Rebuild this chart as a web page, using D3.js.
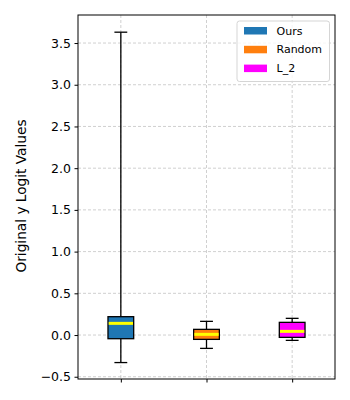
<!DOCTYPE html>
<html>
<head>
<meta charset="utf-8">
<script src="https://cdn.jsdelivr.net/npm/d3@7"></script>
<style>
body { margin: 0; background: #fff; }
svg text { font-family: "DejaVu Sans", sans-serif; }
</style>
</head>
<body>
<div id="chart"></div>
<script>
// box stats
var categories = ["Ours", "Random", "L_2"];
var colors = ["#1f77b4", "#ff7f0e", "#ff00ff"];
var whiskerLow = [-0.33, -0.16, -0.064];
var q1 = [-0.044, -0.052, -0.028];
var medians = [0.14, 0.008, 0.044];
var q3 = [0.22, 0.068, 0.152];
var whiskerHigh = [3.63, 0.164, 0.2];
var yTicks = [-0.5, 0, 0.5, 1.0, 1.5, 2.0, 2.5, 3.0, 3.5];

var W = 350, H = 400;
var plotLeft = 78, plotRight = 335, plotTop = 15, plotBottom = 379;

var svg = d3.select("#chart").append("svg").attr("width", W).attr("height", H);

var x = d3.scaleLinear().domain([0.5, 3.5]).range([plotLeft, plotRight]);
var y = d3.scaleLinear().domain([-0.527, 3.836]).range([plotBottom, plotTop]);

// grid
var grid = svg.append("g");
yTicks.forEach(function (t) {
    grid.append("line").attr("x1", plotLeft).attr("x2", plotRight).attr("y1", y(t)).attr("y2", y(t))
        .attr("stroke", "#b0b0b0").attr("stroke-width", 0.6).attr("stroke-dasharray", "3,2");
});
categories.forEach(function (c, i) {
    grid.append("line").attr("x1", x(i + 1)).attr("x2", x(i + 1)).attr("y1", plotTop).attr("y2", plotBottom)
        .attr("stroke", "#b0b0b0").attr("stroke-width", 0.6).attr("stroke-dasharray", "3,2");
});

// boxes
var boxW = 0.3, capW = 0.15;
categories.forEach(function (c, i) {
    var cx = x(i + 1);
    var g = svg.append("g");
    g.append("line").attr("x1", cx).attr("x2", cx).attr("y1", y(q3[i])).attr("y2", y(whiskerHigh[i]))
        .attr("stroke", "#000").attr("stroke-width", 1.3);
    g.append("line").attr("x1", cx).attr("x2", cx).attr("y1", y(q1[i])).attr("y2", y(whiskerLow[i]))
        .attr("stroke", "#000").attr("stroke-width", 1.3);
    [whiskerHigh[i], whiskerLow[i]].forEach(function (v) {
        g.append("line").attr("x1", x(i + 1 - capW / 2)).attr("x2", x(i + 1 + capW / 2))
            .attr("y1", y(v)).attr("y2", y(v)).attr("stroke", "#000").attr("stroke-width", 1.3);
    });
    g.append("rect").attr("x", x(i + 1 - boxW / 2)).attr("width", x(i + 1 + boxW / 2) - x(i + 1 - boxW / 2))
        .attr("y", y(q3[i])).attr("height", y(q1[i]) - y(q3[i]))
        .attr("fill", colors[i]).attr("stroke", "#000").attr("stroke-width", 1.3);
    g.append("line").attr("x1", x(i + 1 - boxW / 2) + 0.7).attr("x2", x(i + 1 + boxW / 2) - 0.7)
        .attr("y1", y(medians[i])).attr("y2", y(medians[i]))
        .attr("stroke", "#ffff00").attr("stroke-width", 3);
});

// axes
var yAxis = svg.append("g").attr("transform", "translate(" + plotLeft + ",0)")
    .call(d3.axisLeft(y).tickValues(yTicks).tickSize(3.5).tickPadding(3.5)
        .tickFormat(function (d) { return d3.format(".1f")(d).replace("-", "\u2212"); }));
yAxis.select(".domain").remove();
yAxis.selectAll("text").attr("font-size", 12.5).attr("fill", "#000").style("font-family", "DejaVu Sans");
yAxis.selectAll("line").attr("stroke", "#000");

var xAxis = svg.append("g").attr("transform", "translate(0," + plotBottom + ")")
    .call(d3.axisBottom(x).tickValues([1, 2, 3]).tickSize(3.5).tickFormat(""));
xAxis.select(".domain").remove();
xAxis.selectAll("line").attr("stroke", "#000");

svg.append("rect").attr("x", plotLeft).attr("y", plotTop).attr("width", plotRight - plotLeft).attr("height", plotBottom - plotTop)
    .attr("fill", "none").attr("stroke", "#000").attr("stroke-width", 1);

svg.append("text").attr("transform", "translate(26,196) rotate(-90)")
    .attr("text-anchor", "middle").attr("font-size", 13.7).text("Original y Logit Values");

// legend
var lg = svg.append("g");
lg.append("rect").attr("x", 237).attr("y", 21).attr("width", 92.5).attr("height", 60.5).attr("rx", 2.5)
    .attr("fill", "#fff").attr("fill-opacity", 0.8).attr("stroke", "#d5d5d5").attr("stroke-width", 1);
categories.forEach(function (c, i) {
    var cy = 30.7 + i * 18.8;
    lg.append("rect").attr("x", 244).attr("y", cy - 3.7).attr("width", 23).attr("height", 7.5).attr("fill", colors[i]);
    lg.append("text").attr("x", 276.5).attr("y", cy).attr("dy", "0.36em").attr("font-size", 11).text(c);
});
</script>
</body>
</html>
